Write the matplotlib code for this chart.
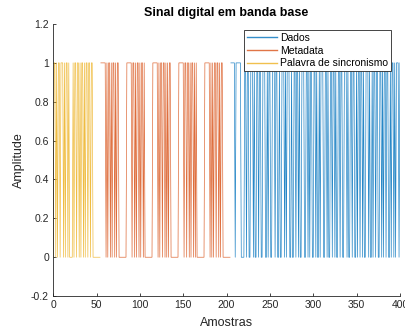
import numpy as np
import matplotlib
matplotlib.use("Agg")
import matplotlib.pyplot as plt

plt.rcParams['font.family'] = ['Liberation Sans', 'DejaVu Sans']

# Bit sequences (one sample per bit)
sync_bits = "0110101101 1101011010 0001011011 0101101011 0110110000 00000"
meta_blocks = [
    "111111 010110101101011 000000000",
    "111111 011010110101101 000000000",
    "111111 010110110101011 000000000",
    "111111 011011010110101 000000000",
    "111111 010101101101011 000000000",
]
data_bits = ("1111101111 1100001101 1001110100 1101100111 0010110011 "
             "1011001001 1101011100 1001101101 0011100110 1011001101 "
             "0010111001 1010011011 0100110110 0111010011 0110010110 "
             "1101001110 1001011011 0011010110 1100101101 011101")

title = "Sinal digital em banda base"
xlabel = "Amostras"
ylabel = "Amplitude"
legend_labels = ["Dados", "Metadata", "Palavra de sincronismo"]
xticks = [0, 50, 100, 150, 200, 250, 300, 350, 400]
yticks = [-0.2, 0, 0.2, 0.4, 0.6, 0.8, 1.0, 1.2]
ytick_labels = ["-0.2", "0", "0.2", "0.4", "0.6", "0.8", "1", "1.2"]

def to_arr(s):
    return np.array([int(c) for c in s if c in "01"], dtype=float)

sync = to_arr(sync_bits)
meta = to_arr("".join(meta_blocks))
data = to_arr(data_bits)

x_sync = np.arange(len(sync))
x_meta = np.arange(len(meta)) + len(sync)
x_data = np.arange(len(data)) + len(sync) + len(meta)

fig = plt.figure(figsize=(4.06, 3.29), dpi=100)
ax = fig.add_axes([0.131, 0.100, 0.854, 0.827])

c_blue = "#0072BD"
c_orange = "#D95319"
c_yellow = "#EDB120"

l1, = ax.plot(x_data, data, color=c_blue, lw=0.5, alpha=0.85)
l2, = ax.plot(x_meta, meta, color=c_orange, lw=0.5, alpha=0.85)
l3, = ax.plot(x_sync, sync, color=c_yellow, lw=0.5, alpha=0.85)

ax.set_xlim(0, 400)
ax.set_ylim(-0.2, 1.2)
ax.set_xticks(xticks)
ax.set_yticks(yticks)
ax.set_yticklabels(ytick_labels)
ax.tick_params(direction='in', length=2.5, width=0.6, labelsize=7.5,
               colors='#262626', pad=3)
for s in ['top', 'right']:
    ax.spines[s].set_visible(False)
for s in ['left', 'bottom']:
    ax.spines[s].set_color('#262626')
    ax.spines[s].set_linewidth(0.6)

ax.set_title(title, fontsize=9, fontweight='bold', color='black', pad=6)
ax.set_xlabel(xlabel, fontsize=9, color='#262626', labelpad=5)
ax.set_ylabel(ylabel, fontsize=9, color='#262626', labelpad=4)

leg = ax.legend([l1, l2, l3], legend_labels, loc='upper right',
                bbox_to_anchor=(0.974, 0.978), fontsize=7.5, frameon=True,
                fancybox=False, edgecolor='#262626', framealpha=1,
                handlelength=2.9, handletextpad=0.25, borderpad=0.3,
                labelspacing=0.25, borderaxespad=0)
leg.get_frame().set_linewidth(0.6)
for h in leg.get_lines():
    h.set_alpha(0.8)
    h.set_linewidth(1.0)

fig.savefig("out.png", dpi=100)
